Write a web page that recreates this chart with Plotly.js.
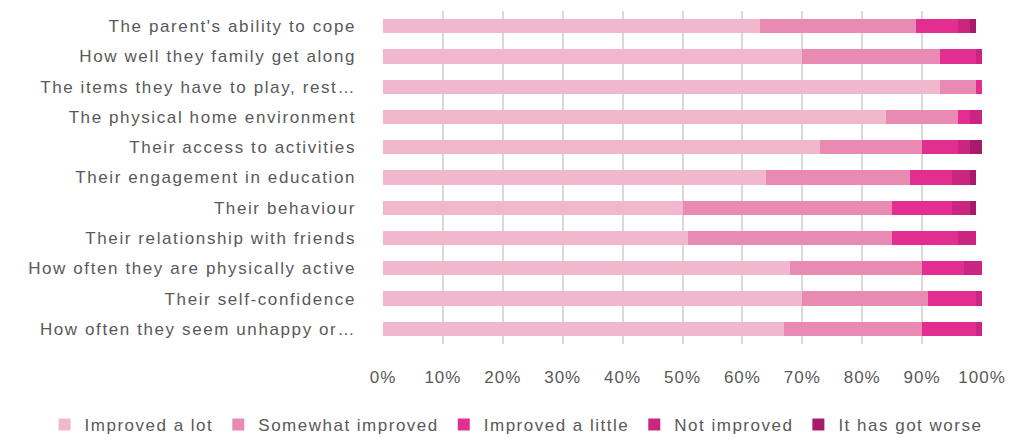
<!DOCTYPE html>
<html>
<head>
<meta charset="utf-8">
<script src="https://cdn.plot.ly/plotly-3.0.1.min.js"></script>
<style>
html,body{margin:0;padding:0;background:#fff;}
#chart{width:1011px;height:437px;}
.ytick text{letter-spacing:1.6px;}
.xtick text{letter-spacing:1px;}
.legendtext{letter-spacing:1.5px;}
</style>
</head>
<body>
<div id="chart"></div>
<script>
const categories = [
  "The parent's ability to cope",
  "How well they family get along",
  "The items they have to play, rest…",
  "The physical home environment",
  "Their access to activities",
  "Their engagement in education",
  "Their behaviour",
  "Their relationship with friends",
  "How often they are physically active",
  "Their self-confidence",
  "How often they seem unhappy or…"
];
const seriesNames = ["Improved a lot", "Somewhat improved", "Improved a little", "Not improved", "It has got worse"];
const improvedALot      = [0.63, 0.70, 0.93, 0.84, 0.73, 0.64, 0.50, 0.51, 0.68, 0.70, 0.67];
const somewhatImproved  = [0.26, 0.23, 0.06, 0.12, 0.17, 0.24, 0.35, 0.34, 0.22, 0.21, 0.23];
const improvedALittle   = [0.07, 0.06, 0.01, 0.02, 0.06, 0.07, 0.10, 0.11, 0.07, 0.08, 0.09];
const notImproved       = [0.02, 0.01, 0.00, 0.02, 0.02, 0.03, 0.03, 0.03, 0.03, 0.01, 0.01];
const gotWorse          = [0.01, 0.00, 0.00, 0.00, 0.02, 0.01, 0.01, 0.00, 0.00, 0.00, 0.00];
const tickValues = [0, 0.1, 0.2, 0.3, 0.4, 0.5, 0.6, 0.7, 0.8, 0.9, 1.0];
const tickLabels = ["0%", "10%", "20%", "30%", "40%", "50%", "60%", "70%", "80%", "90%", "100%"];

const colors = ["#F0B7CD", "#E98AB3", "#E22E91", "#CA2580", "#A81B6A"];
const allSeries = [improvedALot, somewhatImproved, improvedALittle, notImproved, gotWorse];

const traces = allSeries.map((vals, i) => ({
  type: "bar",
  orientation: "h",
  name: seriesNames[i],
  x: vals,
  y: categories,
  marker: { color: colors[i], line: { width: 0 } },
  hoverinfo: "x+name"
}));

const layout = {
  width: 1011,
  height: 437,
  margin: { l: 383, r: 29, t: 11, b: 93, autoexpand: false },
  barmode: "stack",
  bargap: 0.53,
  paper_bgcolor: "#ffffff",
  plot_bgcolor: "#ffffff",
  font: { family: "Liberation Sans, Arial, sans-serif", color: "#595959", size: 17 },
  xaxis: {
    range: [0, 1],
    tickvals: tickValues,
    ticktext: tickLabels,
    showgrid: true,
    gridcolor: "#D9D9D9",
    gridwidth: 2,
    zeroline: false,
    showline: false,
    ticks: "",
    ticklabelstandoff: 21,
    tickfont: { size: 17, color: "#595959" },
    fixedrange: true
  },
  yaxis: {
    autorange: "reversed",
    type: "category",
    showgrid: false,
    zeroline: false,
    showline: false,
    ticks: "",
    ticklabelstandoff: 26,
    tickfont: { size: 17, color: "#595959" },
    fixedrange: true
  },
  legend: {
    orientation: "h",
    xref: "paper",
    yref: "paper",
    x: -0.565,
    xanchor: "left",
    y: -0.243,
    yanchor: "middle",
    font: { size: 17, color: "#595959" },
    traceorder: "normal",
    itemwidth: 30,
    tracegroupgap: 0
  },
  showlegend: true
};

Plotly.newPlot("chart", traces, layout, { displayModeBar: false, staticPlot: true });
</script>
</body>
</html>
